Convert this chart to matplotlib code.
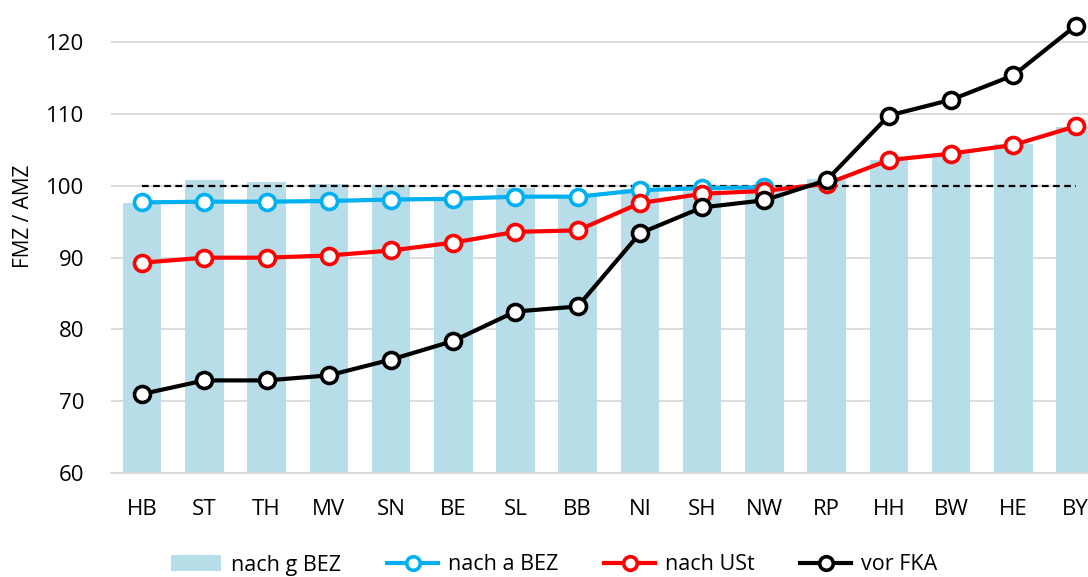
import matplotlib
matplotlib.use("Agg")
import matplotlib.pyplot as plt
import numpy as np

categories = ["HB", "ST", "TH", "MV", "SN", "BE", "SL", "BB", "NI", "SH", "NW", "RP", "HH", "BW", "HE", "BY"]
nach_g_bez = [97.6, 100.8, 100.6, 100.3, 100.1, 98.3, 99.7, 98.5, 99.5, 99.5, 99.7, 101.0, 103.6, 104.5, 105.8, 108.2]
nach_a_bez = [97.7, 97.8, 97.8, 97.9, 98.1, 98.2, 98.5, 98.5, 99.4, 99.7, 99.8, np.nan, np.nan, np.nan, np.nan, np.nan]
nach_ust = [89.3, 90.0, 90.0, 90.3, 91.0, 92.1, 93.6, 93.8, 97.6, 98.9, 99.3, 100.3, 103.6, 104.5, 105.7, 108.3]
vor_fka = [71.0, 72.9, 72.9, 73.6, 75.8, 78.4, 82.5, 83.2, 93.4, 97.0, 98.0, 100.8, 109.8, 112.0, 115.4, 122.3]
reference = 100
y_ticks = [60, 70, 80, 90, 100, 110, 120]

plt.rcParams['font.family'] = ['Open Sans', 'DejaVu Sans']

fig = plt.figure(figsize=(10.88, 5.77), dpi=100)
ax = fig.add_axes([111/1088, 104/577, 1 - 111/1088, 473/577])

x = np.arange(len(categories))
ax.bar(x, np.array(nach_g_bez) - 60, bottom=60, width=0.62, color="#B7DDE8", label="nach g BEZ", zorder=2)
ax.plot([x[0], x[-1]], [reference, reference], ls=(0, (3, 2)), color="black", lw=1.6, zorder=3)

mk = dict(marker="o", markersize=11.5, markerfacecolor="white", markeredgewidth=2.6, lw=3.0, clip_on=False)
ax.plot(x, nach_a_bez, color="#00B0F0", label="nach a BEZ", zorder=4, **mk)
ax.plot(x, nach_ust, color="#FF0000", label="nach USt", zorder=5, **mk)
ax.plot(x, vor_fka, color="black", label="vor FKA", zorder=6, **mk)

ax.set_xlim(-0.5, 15.2)
ax.set_ylim(60, 125.9)
ax.set_yticks(y_ticks)
ax.set_xticks(x)
ax.set_xticklabels(categories)
ax.tick_params(axis="both", length=0, labelsize=16, colors="black")
ax.tick_params(axis="x", pad=19)
ax.tick_params(axis="y", pad=19)
ax.yaxis.grid(True, color="#D9D9D9", lw=1.3, zorder=0)
ax.set_axisbelow(True)
for s in ["top", "right", "left"]:
    ax.spines[s].set_visible(False)
ax.spines["bottom"].set_color("#D9D9D9")
ax.spines["bottom"].set_linewidth(1.3)
ax.set_ylabel("FMZ / AMZ", fontsize=15)
ax.yaxis.set_label_coords((34 - 111) / 977, (473 - 216) / 473)

handles, labels = ax.get_legend_handles_labels()
order = [labels.index(l) for l in ["nach g BEZ", "nach a BEZ", "nach USt", "vor FKA"]]
fig.legend([handles[i] for i in order], [labels[i] for i in order], loc="center",
           bbox_to_anchor=(0.509, 12/577), ncol=4, frameon=False, fontsize=15.5,
           handlelength=2.35, handleheight=0.75, columnspacing=2.15, handletextpad=0.45,
           markerscale=0.85)

fig.savefig("out.png", dpi=100)
